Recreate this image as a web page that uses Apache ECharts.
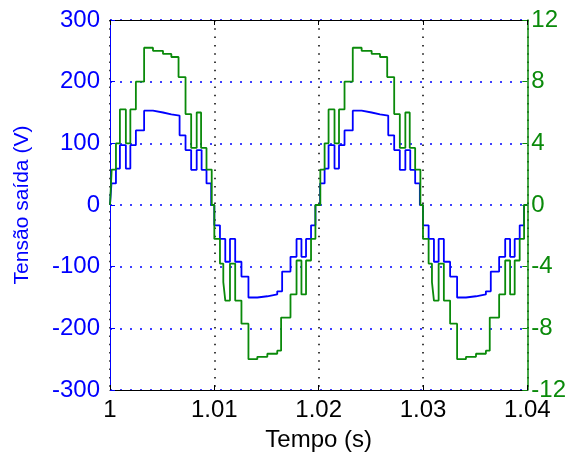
<!DOCTYPE html>
<html>
<head>
<meta charset="utf-8">
<script src="https://cdn.jsdelivr.net/npm/echarts@6/dist/echarts.min.js"></script>
<style>
html,body{margin:0;padding:0;background:#fff;}
#chart{width:569px;height:457px;}
</style>
</head>
<body>
<div id="chart"></div>
<script>
// Time axis ticks
var xTicks = [1, 1.01, 1.02, 1.03, 1.04];
// Left axis: output voltage (V) - blue staircase
var blueT = [1.00000, 1.00014, 1.00057, 1.00095, 1.00152, 1.00195, 1.00248, 1.00327, 1.00412, 1.00508, 1.00588, 1.00667, 1.00724, 1.00778, 1.00831, 1.00878, 1.00925, 1.00970, 1.01000, 1.01054, 1.01105, 1.01150, 1.01200, 1.01260, 1.01327, 1.01412, 1.01508, 1.01603, 1.01650, 1.01730, 1.01788, 1.01835, 1.01879, 1.01927, 1.01969,
             1.02014, 1.02057, 1.02095, 1.02152, 1.02195, 1.02248, 1.02327, 1.02412, 1.02508, 1.02588, 1.02667, 1.02724, 1.02778, 1.02831, 1.02878, 1.02925, 1.02970, 1.03000, 1.03054, 1.03105, 1.03150, 1.03200, 1.03260, 1.03327, 1.03412, 1.03508, 1.03603, 1.03650, 1.03730, 1.03788, 1.03835, 1.03879, 1.03927, 1.03969, 1.04000];
var blueV = [0, 35, 59, 97, 59, 97, 121, 153, 150, 147, 145, 113, 89, 57, 89, 57, 35, 0, -33, -55, -92, -55, -92, -116, -150, -148, -145, -140, -108, -84, -55, -84, -55, -33, 0,
             35, 59, 97, 59, 97, 121, 153, 150, 147, 145, 113, 89, 57, 89, 57, 35, 0, -33, -55, -92, -55, -92, -116, -150, -148, -145, -140, -108, -84, -55, -84, -55, -33, 0, 0];
// Right axis - green staircase
var greenT = [1.00000, 1.00016, 1.00057, 1.00095, 1.00152, 1.00195, 1.00248, 1.00327, 1.00412, 1.00508, 1.00588, 1.00657, 1.00724, 1.00778, 1.00831, 1.00873, 1.00925, 1.00975, 1.01000, 1.01054, 1.01086, 1.01105, 1.01150, 1.01200, 1.01260, 1.01327, 1.01412, 1.01508, 1.01603, 1.01640, 1.01730, 1.01788, 1.01835, 1.01879, 1.01927, 1.01969,
              1.02016, 1.02057, 1.02095, 1.02152, 1.02195, 1.02248, 1.02327, 1.02412, 1.02508, 1.02588, 1.02657, 1.02724, 1.02778, 1.02831, 1.02873, 1.02925, 1.02975, 1.03000, 1.03054, 1.03086, 1.03105, 1.03150, 1.03200, 1.03260, 1.03327, 1.03412, 1.03508, 1.03603, 1.03640, 1.03730, 1.03788, 1.03835, 1.03879, 1.03927, 1.03969, 1.04000];
var greenV = [0, 2.3, 4.0, 6.2, 4.0, 6.2, 8.0, 10.2, 10.0, 9.8, 9.6, 8.3, 5.9, 3.7, 6.0, 3.7, 2.3, 0, -2.2, -3.8, -5.0, -6.2, -3.8, -6.2, -7.7, -10.0, -9.85, -9.65, -9.45, -7.3, -5.8, -3.6, -5.8, -3.6, -2.2, 0,
              2.3, 4.0, 6.2, 4.0, 6.2, 8.0, 10.2, 10.0, 9.8, 9.6, 8.3, 5.9, 3.7, 6.0, 3.7, 2.3, 0, -2.2, -3.8, -5.0, -6.2, -3.8, -6.2, -7.7, -10.0, -9.85, -9.65, -9.45, -7.3, -5.8, -3.6, -5.8, -3.6, -2.2, 0, 0];

var BLUE = '#0000ff', GREEN = '#0a8a0a';
var FONT = '"Liberation Sans", Arial, sans-serif';

function pairs(t, v) { return t.map(function (x, i) { return [x, v[i]]; }); }

var chart = echarts.init(document.getElementById('chart'), null, {renderer: 'canvas'});
chart.setOption({
  animation: false,
  backgroundColor: '#fff',
  grid: {left: 110, right: 39, top: 20, bottom: 61, containLabel: false},
  xAxis: [{
    type: 'value', min: xTicks[0], max: xTicks[xTicks.length - 1], interval: 0.01, position: 'bottom',
    axisLine: {onZero: false, lineStyle: {color: '#000', width: 1}},
    axisTick: {inside: true, length: 5, lineStyle: {color: '#000'}},
    axisLabel: {color: '#000', fontSize: 24, fontFamily: FONT, margin: 8,
      formatter: function (v) { return String(+v.toFixed(2)); }},
    splitLine: {show: true, lineStyle: {color: '#000', type: [1.5, 6.8], width: 1.5}},
    name: 'Tempo (s)', nameLocation: 'middle', nameGap: 38,
    nameTextStyle: {color: '#000', fontSize: 24, fontFamily: FONT}
  }, {
    type: 'value', min: xTicks[0], max: xTicks[xTicks.length - 1], interval: 0.01, position: 'top',
    axisLine: {onZero: false, lineStyle: {color: '#000', width: 1}},
    axisTick: {inside: true, length: 5, lineStyle: {color: '#000'}},
    axisLabel: {show: false}, splitLine: {show: false}
  }],
  yAxis: [{
    type: 'value', min: -300, max: 300, interval: 100, position: 'left',
    axisLine: {show: true, onZero: false, lineStyle: {color: BLUE, width: 1}},
    axisTick: {show: true, inside: true, length: 5, lineStyle: {color: BLUE}},
    axisLabel: {color: BLUE, fontSize: 24, fontFamily: FONT, margin: 10},
    splitLine: {show: true, lineStyle: {color: BLUE, type: [2, 8], width: 1.5}},
    name: 'Tensão saída (V)', nameLocation: 'middle', nameGap: 77,
    nameTextStyle: {color: BLUE, fontSize: 21, fontFamily: FONT}
  }, {
    type: 'value', min: -12, max: 12, interval: 4, position: 'right',
    axisLine: {show: true, onZero: false, lineStyle: {color: GREEN, width: 1.5}},
    axisTick: {show: true, inside: true, length: 5, lineStyle: {color: GREEN}},
    axisLabel: {color: GREEN, fontSize: 24, fontFamily: FONT, margin: 4},
    splitLine: {show: false}
  }],
  series: [{
    type: 'line', step: 'end', xAxisIndex: 0, yAxisIndex: 0, showSymbol: false, symbol: 'none',
    lineStyle: {color: BLUE, width: 1.8}, data: pairs(blueT, blueV)
  }, {
    type: 'line', step: 'end', xAxisIndex: 0, yAxisIndex: 1, showSymbol: false, symbol: 'none',
    lineStyle: {color: GREEN, width: 1.8}, data: pairs(greenT, greenV)
  }]
});
</script>
</body>
</html>
